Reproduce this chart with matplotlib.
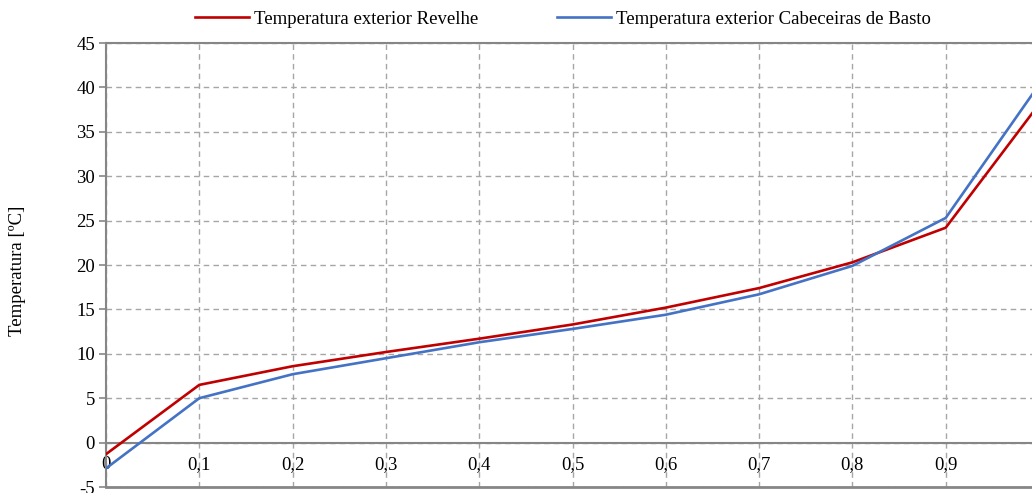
import matplotlib.pyplot as plt
import matplotlib.ticker as mticker
import numpy as np

plt.rcParams['font.family'] = ['Liberation Serif', 'DejaVu Serif']

# probabilidade acumulada
x = [0, 0.1, 0.2, 0.3, 0.4, 0.5, 0.6, 0.7, 0.8, 0.9, 1.0]
revelhe = [-1.3, 6.5, 8.6, 10.2, 11.7, 13.3, 15.2, 17.4, 20.3, 24.2, 38.1]
cabeceiras = [-2.9, 5.0, 7.7, 9.5, 11.3, 12.8, 14.4, 16.7, 19.9, 25.3, 40.3]

fig = plt.figure(figsize=(10.32, 4.93), dpi=100)
ax = fig.add_axes([106 / 1032, 1 - 487 / 493, (1039 - 106) / 1032, (487 - 43) / 493])

axis_col = '#868686'
grid_col = '#a6a6a6'
fs = 13.5

ax.plot(x, revelhe, color='#C00000', lw=1.9, label='Temperatura exterior Revelhe', zorder=3)
ax.plot(x, cabeceiras, color='#4472C4', lw=1.9, label='Temperatura exterior Cabeceiras de Basto', zorder=3)

ax.set_xlim(0, 1)
ax.set_ylim(-5, 45)
ax.set_xticks(np.arange(0, 1.0, 0.1))
ax.set_yticks(np.arange(-5, 50, 5))

comma = mticker.FuncFormatter(lambda v, p: ('%g' % round(v, 2)).replace('.', ','))
ax.xaxis.set_major_formatter(comma)
ax.yaxis.set_major_formatter(mticker.FuncFormatter(lambda v, p: '%d' % v))

ax.grid(True, color=grid_col, linestyle=(0, (4, 3)), lw=1.0, zorder=0)

# eixo x cruza em 0
ax.spines['bottom'].set_position(('data', 0))
ax.spines['right'].set_visible(False)
for s in ['bottom', 'left', 'top']:
    ax.spines[s].set_color(axis_col)
    ax.spines[s].set_linewidth(1.5)
ax.axhline(-5, color=axis_col, lw=2, zorder=2, clip_on=False)

ax.tick_params(axis='x', length=0, pad=10, labelsize=fs, colors='black')
ax.tick_params(axis='y', length=5, width=1.2, color=axis_col, labelsize=fs, pad=3)

fig.text(18 / 1032, 1 - 271 / 493, 'Temperatura [ºC]', rotation=90, ha='center', va='center', fontsize=fs)

fig.legend(loc='center', bbox_to_anchor=(563 / 1032, 1 - 19 / 493), ncol=2, frameon=False,
           fontsize=fs, handlelength=2.9, columnspacing=4.2, handletextpad=0.27)

fig.savefig('out.png', dpi=100)
